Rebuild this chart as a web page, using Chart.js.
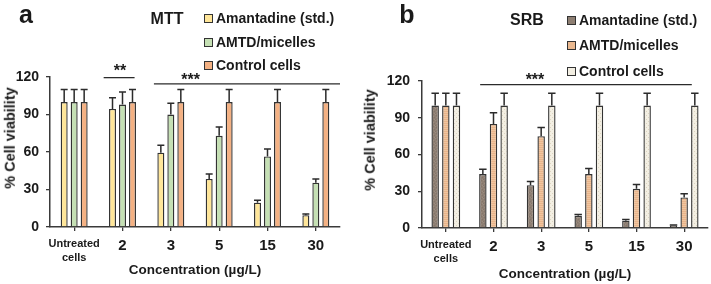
<!DOCTYPE html>
<html><head><meta charset="utf-8">
<script src="https://cdn.jsdelivr.net/npm/chart.js@4.4.1/dist/chart.umd.min.js"></script>
<style>
html,body{margin:0;padding:0;background:#fff;width:711px;height:284px;overflow:hidden;font-family:"Liberation Sans",Arial,sans-serif;}
.panel{position:absolute;top:0;height:284px;}
#pa{left:0;width:355px;} #pb{left:355px;width:356px;}
.txt{position:absolute;font-weight:bold;color:#1a1a1a;white-space:nowrap;line-height:1;transform:translate(-50%,-50%);}
.leg{position:absolute;font-weight:bold;font-size:14px;color:#1a1a1a;white-space:nowrap;display:flex;align-items:center;transform:translateY(-50%);line-height:1;}
.sw{display:inline-block;width:7px;height:7px;border:1px solid #333;margin-right:3px;}
.ytitle{position:absolute;font-weight:bold;font-size:14.5px;color:#1a1a1a;white-space:nowrap;line-height:1;transform:translate(-50%,-50%) rotate(-90deg);}
</style></head>
<body>
<div class="panel" id="pa"><canvas id="ca" width="355" height="284"></canvas></div>
<div class="panel" id="pb"><canvas id="cb" width="356" height="284"></canvas></div>

<div class="txt" style="left:26px;top:14px;font-size:25px;">a</div>
<div class="txt" style="left:167px;top:19px;font-size:16px;">MTT</div>
<div class="leg" style="left:204px;top:18px;"><span class="sw" style="background:#ffe699"></span>Amantadine (std.)</div>
<div class="leg" style="left:204px;top:42px;"><span class="sw" style="background:#c5e0b4"></span>AMTD/micelles</div>
<div class="leg" style="left:204px;top:65px;"><span class="sw" style="background:#f4b183"></span>Control cells</div>
<div class="ytitle" style="left:10px;top:138px;">% Cell viability</div>

<div class="txt" style="left:407px;top:14px;font-size:25px;">b</div>
<div class="txt" style="left:527px;top:20px;font-size:16px;">SRB</div>
<div class="leg" style="left:567px;top:20px;"><span class="sw" style="background:#8d7e72"></span>Amantadine (std.)</div>
<div class="leg" style="left:567px;top:45px;"><span class="sw" style="background:#eab88f"></span>AMTD/micelles</div>
<div class="leg" style="left:567px;top:71px;"><span class="sw" style="background:#f2eee2"></span>Control cells</div>
<div class="ytitle" style="left:370px;top:140px;">% Cell viability</div>

<script>
// ---------- DATA ----------
const categories = [["Untreated", "cells"], "2", "3", "5", "15", "30"];
const yTicks = [0, 30, 60, 90, 120];

const mttAmantadine    = [100, 94.5, 59.5, 38.5, 19.5, 9.5];
const mttAmantadineErr = [10, 9, 6, 4, 2, 1];
const mttMicelles      = [100, 98, 90, 73, 56.5, 35.5];
const mttMicellesErr   = [10, 10, 9, 7, 6, 3];
const mttControl       = [100, 100, 100, 100, 100, 100];
const mttControlErr    = [10, 10, 10, 10, 10, 10];

const srbAmantadine    = [100, 44, 35, 10, 6, 2];
const srbAmantadineErr = [10, 4, 3, 1, 1, 0.5];
const srbMicelles      = [100, 85, 75, 44, 32, 25];
const srbMicellesErr   = [10, 9, 7, 4.5, 3.5, 3];
const srbControl       = [100, 100, 100, 100, 100, 100];
const srbControlErr    = [10, 10, 10, 10, 10, 10];

const seriesNames = ["Amantadine (std.)", "AMTD/micelles", "Control cells"];

// ---------- STYLE ----------
const FONT = "'Liberation Sans', Arial, sans-serif";
const INK = '#1a1a1a';
const AXIS = '#3a3a3a';

function makePattern(kind){
  const c = document.createElement('canvas');
  const g = c.getContext('2d');
  if (kind === 'brown') {
    c.width = 6; c.height = 6;
    g.fillStyle = '#8e7f73'; g.fillRect(0,0,6,6);
    g.fillStyle = '#83756a';
    [[0,0],[3,1],[1,3],[4,4],[5,2],[2,5]].forEach(p=>g.fillRect(p[0],p[1],1,1));
    g.fillStyle = '#9a8b7f';
    [[2,0],[5,0],[0,2],[3,3],[1,5],[4,5]].forEach(p=>g.fillRect(p[0],p[1],1,1));
  } else if (kind === 'tan') {
    c.width = 4; c.height = 4;
    g.fillStyle = '#e8b48b'; g.fillRect(0,0,4,4);
    g.fillStyle = '#f0c59f'; g.fillRect(0,0,4,1); g.fillRect(0,2,4,1);
  } else {
    c.width = 4; c.height = 4;
    g.fillStyle = '#f3efe3'; g.fillRect(0,0,4,4);
    g.fillStyle = '#ddd5c2'; g.fillRect(1,1,1,1); g.fillRect(3,3,1,1);
  }
  return g.createPattern(c, 'repeat');
}

// error bars plugin
const errorBars = {
  id: 'errorBars',
  afterDatasetsDraw(chart) {
    const ctx = chart.ctx, ys = chart.scales.y;
    ctx.save();
    ctx.strokeStyle = '#2b2b2b';
    ctx.lineWidth = 1.5;
    chart.data.datasets.forEach((ds, di) => {
      const meta = chart.getDatasetMeta(di);
      meta.data.forEach((el, i) => {
        const v = ds.data[i], e = ds.errors[i];
        const yT = ys.getPixelForValue(v + e);
        const half = el.width / 2;
        ctx.beginPath();
        ctx.moveTo(el.x, el.y);
        ctx.lineTo(el.x, yT);
        ctx.moveTo(el.x - half, yT);
        ctx.lineTo(el.x + half, yT);
        ctx.stroke();
      });
    });
    ctx.restore();
  }
};

// significance markers plugin
const sigMarks = {
  id: 'sigMarks',
  afterDraw(chart, args, opts) {
    const ctx = chart.ctx, xs = chart.scales.x, ys = chart.scales.y;
    const cw = xs.getPixelForValue(1) - xs.getPixelForValue(0);
    ctx.save();
    ctx.strokeStyle = '#2b2b2b';
    ctx.lineWidth = 1.3;
    ctx.fillStyle = INK;
    ctx.font = 'bold 16px ' + FONT;
    ctx.textAlign = 'center';
    ctx.textBaseline = 'alphabetic';
    (opts.marks || []).forEach(m => {
      const y = ys.getPixelForValue(m.level);
      const x1 = xs.getPixelForValue(m.from[0]) + m.from[1] * cw;
      const x2 = m.to === 'end' ? chart.chartArea.right : xs.getPixelForValue(m.to[0]) + m.to[1] * cw;
      ctx.beginPath(); ctx.moveTo(x1, y); ctx.lineTo(x2, y); ctx.stroke();
      const tx = xs.getPixelForValue(m.text[0]) + m.text[1] * cw;
      ctx.fillText(m.label, tx, y + m.dy);
    });
    ctx.restore();
  }
};

function buildChart(id, sets, colors, layout, marks, catPct) {
  return new Chart(document.getElementById(id), {
    type: 'bar',
    data: {
      labels: categories,
      datasets: sets.map((s, k) => ({
        label: seriesNames[k],
        data: s[0],
        errors: s[1],
        backgroundColor: colors[k],
        borderColor: '#333333',
        borderWidth: 1.4,
        borderSkipped: 'bottom',
        categoryPercentage: catPct,
        barPercentage: 0.7
      }))
    },
    options: {
      responsive: false,
      animation: false,
      devicePixelRatio: 1,
      layout: { padding: layout.padding },
      plugins: {
        legend: { display: false },
        tooltip: { enabled: false },
        sigMarks: { marks }
      },
      scales: {
        x: {
          offset: true,
          grid: { display: true, offset: false, drawOnChartArea: false, tickLength: 4, color: AXIS, lineWidth: 1.3 },
          border: { display: true, color: AXIS, width: 1.5 },
          ticks: {
            color: INK,
            padding: 6,
            maxRotation: 0,
            autoSkip: false,
            font: (c) => c.index === 0 ? { family: FONT, size: 11, weight: 'bold', lineHeight: 1.25 } : { family: FONT, size: 15, weight: 'bold', lineHeight: 1.15 }
          },
          title: {
            display: true,
            text: 'Concentration (µg/L)',
            color: INK,
            font: { family: FONT, size: 13.5, weight: 'bold' },
            padding: { top: 0, bottom: layout.xTitlePad }
          },
          afterFit: (s) => { s.height = layout.xHeight; }
        },
        y: {
          min: 0, max: 120,
          afterBuildTicks: (s) => { s.ticks = yTicks.map(v => ({ value: v })); },
          grid: { display: true, drawOnChartArea: false, tickLength: 4, color: AXIS, lineWidth: 1.3 },
          border: { display: true, color: AXIS, width: 1.5 },
          ticks: { color: INK, padding: layout.yPad, font: { family: FONT, size: 14, weight: 'bold' } },
          afterFit: (s) => { s.width = layout.yWidth; }
        }
      }
    },
    plugins: [errorBars, sigMarks]
  });
}

buildChart('ca',
  [[mttAmantadine, mttAmantadineErr], [mttMicelles, mttMicellesErr], [mttControl, mttControlErr]],
  ['#ffe699', '#c5e0b4', '#f4b183'],
  { padding: { top: 77, right: 15, left: 0, bottom: 0 }, xHeight: 57, yWidth: 50, yPad: 7, xTitlePad: 6 },
  [
    { from: [1, -0.39], to: [1, 0.25], level: 119.5, text: [1, -0.05], label: '**', dy: -2 },
    { from: [2, -0.35], to: 'end', level: 114.5, text: [2, 0.41], label: '***', dy: 1 }
  ],
  0.62
);

buildChart('cb',
  [[srbAmantadine, srbAmantadineErr], [srbMicelles, srbMicellesErr], [srbControl, srbControlErr]],
  [makePattern('brown'), makePattern('tan'), makePattern('beige')],
  { padding: { top: 81, right: 3, left: 0, bottom: 0 }, xHeight: 56, yWidth: 67, yPad: 8, xTitlePad: 2 },
  [
    { from: [1, -0.28], to: [5, 0.16], level: 117, text: [1, 0.87], label: '***', dy: 0 }
  ],
  0.67
);
</script>
</body></html>
